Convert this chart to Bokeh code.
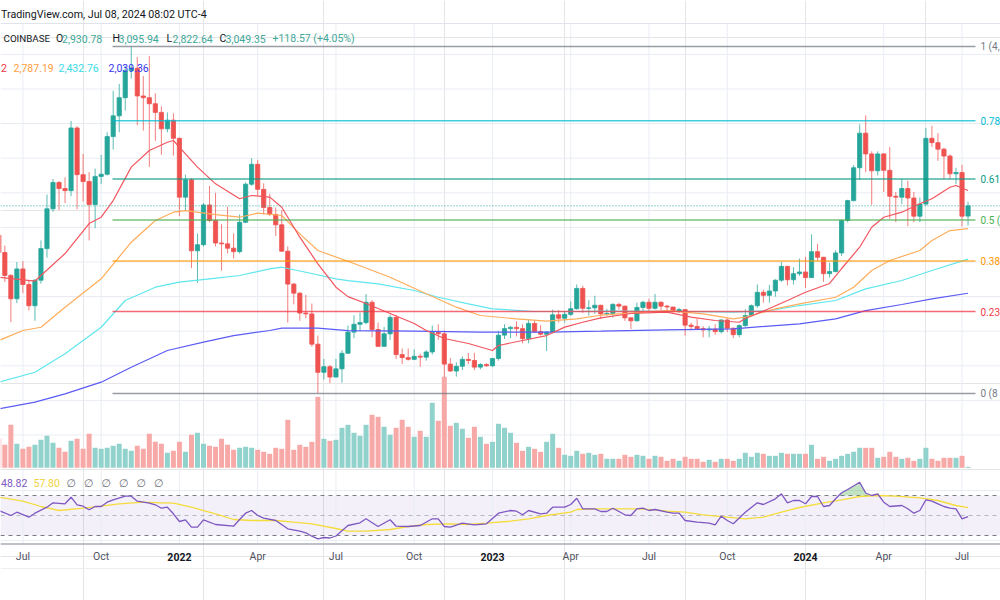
import numpy as np
import pandas as pd
from bokeh.plotting import figure
from bokeh.models import Range1d
from bokeh.embed import file_html
from bokeh.resources import INLINE
from bokeh.core.properties import value

# ---------------- data (weekly ETH/USD, Coinbase) ----------------
dates = pd.date_range("2021-06-07", periods=162, freq="W-MON")

opens = [
    2710, 2510, 2245, 1975, 2320, 2140, 1895, 2190, 2555, 3015,
    3320, 3250, 3225, 3950, 3410, 3330, 3065, 3390, 3415, 3850,
    4090, 4300, 4610, 4640, 4320, 4300, 4230, 4130, 3940, 4040,
    3830, 3150, 3350, 2530, 2600, 3060, 2880, 2620, 2610, 2560,
    2520, 2860, 3300, 3530, 3240, 3030, 2950, 2830, 2525, 2145,
    2040, 1810, 1800, 1450, 1125, 1190, 1070, 1165, 1345, 1590,
    1680, 1700, 1935, 1620, 1425, 1570, 1760, 1330, 1295, 1275,
    1310, 1300, 1360, 1585, 1570, 1220, 1140, 1195, 1275, 1262,
    1185, 1215, 1200, 1285, 1555, 1630, 1645, 1630, 1515, 1690,
    1595, 1565, 1590, 1790, 1750, 1795, 1860, 2095, 1865, 1870,
    1900, 1800, 1805, 1910, 1890, 1755, 1720, 1875, 1935, 1865,
    1935, 1890, 1880, 1830, 1850, 1670, 1655, 1630, 1615, 1625,
    1595, 1730, 1635, 1560, 1665, 1780, 1895, 2050, 2015, 2065,
    2190, 2350, 2195, 2265, 2285, 2220, 2520, 2455, 2265, 2290,
    2505, 2880, 3110, 3490, 3890, 3650, 3455, 3650, 3460, 3160,
    3150, 3250, 3140, 2930, 3070, 3830, 3780, 3705, 3625, 3420,
    3435, 2930.78]
highs = [
    2890, 2590, 2260, 2400, 2410, 2190, 2200, 2650, 3180, 3360,
    3335, 3380, 4030, 3970, 3650, 3440, 3480, 3640, 3900, 4380,
    4460, 4670, 4890, 4770, 4550, 4780, 4350, 4200, 4130, 4120,
    3840, 3410, 3370, 2730, 3080, 3280, 3200, 2840, 3040, 2730,
    2950, 3320, 3600, 3580, 3310, 3190, 3030, 3000, 2580, 2160,
    2050, 2020, 1920, 1550, 1280, 1210, 1280, 1380, 1665, 1785,
    1815, 2030, 1960, 1700, 1650, 1790, 1790, 1400, 1400, 1390,
    1340, 1380, 1665, 1680, 1610, 1290, 1240, 1310, 1350, 1350,
    1230, 1230, 1290, 1600, 1680, 1660, 1715, 1680, 1740, 1720,
    1670, 1600, 1850, 1845, 1830, 1945, 2140, 2125, 1960, 2010,
    1905, 1860, 1925, 1930, 1895, 1760, 1930, 1950, 1975, 2030,
    1945, 1905, 1880, 1870, 1850, 1700, 1745, 1660, 1660, 1680,
    1740, 1750, 1640, 1680, 1855, 1910, 2140, 2080, 2135, 2200,
    2400, 2355, 2340, 2440, 2460, 2720, 2610, 2460, 2390, 2535,
    2890, 3120, 3520, 3990, 4095, 3680, 3680, 3660, 3730, 3210,
    3360, 3340, 3210, 3145, 3950, 3975, 3890, 3720, 3645, 3490,
    3525, 3095.94]
lows = [
    2330, 2170, 1705, 1925, 2040, 1840, 1720, 2150, 2450, 2980,
    3000, 3080, 3160, 3010, 3100, 2650, 2790, 3300, 3400, 3700,
    3900, 4150, 4520, 3980, 3920, 3500, 3800, 3640, 3900, 3630,
    2930, 3000, 2330, 2160, 2580, 2860, 2580, 2300, 2500, 2440,
    2500, 2850, 3280, 3170, 2950, 2930, 2700, 2520, 1700, 1910,
    1720, 1750, 1420, 880, 1040, 1000, 1070, 1005, 1340, 1520,
    1600, 1680, 1530, 1420, 1420, 1500, 1280, 1220, 1260, 1270,
    1190, 1260, 1330, 1500, 1070, 1130, 1075, 1150, 1220, 1150,
    1160, 1190, 1190, 1260, 1510, 1520, 1540, 1460, 1460, 1580,
    1550, 1370, 1575, 1700, 1700, 1775, 1850, 1810, 1780, 1800,
    1740, 1780, 1760, 1850, 1720, 1625, 1715, 1825, 1820, 1850,
    1840, 1830, 1815, 1810, 1550, 1610, 1625, 1530, 1530, 1560,
    1575, 1590, 1520, 1530, 1650, 1780, 1870, 1930, 1930, 2000,
    2170, 2130, 2140, 2240, 2100, 2220, 2415, 2170, 2220, 2280,
    2470, 2860, 3100, 3350, 3440, 3060, 3400, 3210, 2900, 2860,
    3070, 2815, 2860, 2860, 3050, 3730, 3570, 3360, 3360, 3300,
    2810, 2822.64]
closes = [
    2510, 2245, 1975, 2320, 2140, 1895, 2190, 2555, 3015, 3320,
    3250, 3225, 3950, 3410, 3330, 3065, 3390, 3415, 3850, 4090,
    4300, 4610, 4640, 4320, 4300, 4230, 4130, 3940, 4040, 3830,
    3150, 3350, 2530, 2600, 3060, 2880, 2620, 2610, 2560, 2520,
    2860, 3300, 3530, 3240, 3030, 2950, 2830, 2525, 2145, 2040,
    1810, 1800, 1450, 1125, 1190, 1070, 1165, 1345, 1590, 1680,
    1700, 1935, 1620, 1425, 1570, 1760, 1330, 1295, 1275, 1310,
    1300, 1360, 1585, 1570, 1220, 1140, 1195, 1275, 1262, 1185,
    1215, 1200, 1285, 1555, 1630, 1645, 1630, 1515, 1690, 1595,
    1565, 1590, 1790, 1750, 1795, 1860, 2095, 1865, 1870, 1900,
    1800, 1805, 1910, 1890, 1755, 1720, 1875, 1935, 1865, 1935,
    1890, 1880, 1830, 1850, 1670, 1655, 1630, 1615, 1625, 1595,
    1730, 1635, 1560, 1665, 1780, 1895, 2050, 2015, 2065, 2190,
    2350, 2195, 2265, 2285, 2220, 2520, 2455, 2265, 2290, 2505,
    2880, 3110, 3490, 3890, 3650, 3455, 3650, 3460, 3160, 3150,
    3250, 3140, 2930, 3070, 3830, 3780, 3705, 3625, 3420, 3435,
    2930, 3049.35]
volume_k = [   # thousand ETH
    1450, 1150, 2150, 1200, 950, 1050, 1150, 1400, 1600, 1250,
    1000, 800, 1350, 1450, 950, 1700, 1000, 950, 1000, 1100,
    1200, 950, 850, 1100, 950, 1700, 1300, 1200, 750, 850,
    1300, 800, 1650, 1750, 1200, 1100, 1050, 1450, 1150, 900,
    1000, 1050, 1000, 900, 800, 700, 1000, 950, 2400, 900,
    1150, 1050, 1300, 3550, 1450, 1350, 1400, 2000, 2150, 1750,
    1600, 2150, 2650, 2550, 2050, 1650, 2000, 2400, 2050, 1550,
    1850, 1550, 3250, 2350, 4550, 2100, 2250, 1950, 1500, 2050,
    1550, 1200, 1300, 2200, 2000, 1750, 1250, 850, 1050, 950,
    800, 1300, 1700, 1000, 650, 600, 850, 700, 750, 650,
    700, 450, 450, 450, 650, 550, 650, 600, 450, 600,
    550, 350, 450, 350, 550, 450, 450, 300, 400, 300,
    450, 450, 350, 450, 750, 550, 750, 700, 600, 600,
    750, 700, 700, 700, 700, 1150, 450, 550, 350, 450,
    600, 700, 800, 1000, 1000, 1000, 500, 550, 800, 550,
    450, 500, 350, 450, 1000, 450, 350, 500, 500, 500,
    600, 50]

# moving averages (index into dates, value)
ma20_idx = [0, 6, 7, 11, 15, 17, 19, 22, 25, 28, 29, 31, 33, 36, 40, 42, 45, 47, 50, 53,
            56, 58, 61, 65, 69, 71, 74, 78, 82, 83, 87, 91, 94, 97, 100, 105, 111, 115, 119, 123,
            124, 128, 131, 134, 138, 140, 143, 145, 147, 150, 153, 155, 158, 159, 161]
ma20_val = [2225, 2180, 2244, 2498, 2845, 2918, 3111, 3497, 3689, 3785, 3805, 3651, 3497, 3304, 3131, 3169, 3150, 3034, 2687, 2379,
            2109, 2000, 1920, 1805, 1689, 1608, 1516, 1458, 1377, 1435, 1493, 1550, 1647, 1704, 1755, 1805, 1820, 1762, 1724, 1704,
            1747, 1862, 1955, 2051, 2152, 2325, 2571, 2802, 2918, 2976, 3073, 3131, 3265, 3285, 3227]
ma50_idx = [0, 4, 7, 11, 17, 22, 26, 29, 31, 36, 40, 43, 47, 50, 53, 59, 65, 71, 76, 80,
            86, 91, 96, 100, 111, 117, 122, 124, 129, 133, 139, 142, 145, 148, 153, 155, 158, 161]
ma50_val = [1493, 1608, 1646, 1878, 2206, 2629, 2880, 2976, 2995, 2949, 2918, 2965, 2938, 2726, 2533, 2383, 2224, 2033, 1878, 1782,
            1743, 1716, 1743, 1785, 1839, 1801, 1743, 1762, 1859, 1917, 1993, 2109, 2302, 2418, 2533, 2649, 2764, 2787.19]
ma100_idx = [0, 6, 11, 17, 21, 26, 30, 35, 40, 45, 47, 51, 56, 58, 63, 69, 73, 78, 82, 89,
             96, 100, 111, 122, 128, 133, 139, 144, 150, 155, 161]
ma100_val = [1011, 1126, 1339, 1646, 1955, 2109, 2167, 2206, 2244, 2321, 2340, 2282, 2206, 2186, 2148, 2071, 1993, 1917, 1859, 1828,
             1828, 1833, 1831, 1820, 1839, 1897, 1955, 2090, 2186, 2302, 2432.76]
ma200_idx = [0, 6, 11, 17, 22, 28, 34, 39, 45, 47, 53, 58, 69, 80, 91, 100, 111, 122, 133, 139, 144, 150, 155, 161]
ma200_val = [703, 780, 876, 1011, 1184, 1377, 1473, 1550, 1608, 1635, 1635, 1608, 1600, 1589, 1589, 1600, 1616, 1628, 1686, 1743,
             1839, 1909, 1975, 2039.36]

rsi_idx = [0, 2, 3, 5, 6, 8, 9, 11, 12, 13, 14, 15, 16, 17, 18, 19, 21, 22, 23, 25,
           26, 27, 28, 29, 30, 31, 32, 33, 34, 36, 39, 40, 41, 42, 43, 44, 46, 48, 50, 51,
           52, 53, 54, 55, 56, 58, 60, 61, 63, 65, 66, 68, 70, 72, 73, 74, 75, 77, 79, 81,
           83, 85, 86, 87, 88, 90, 91, 92, 94, 95, 96, 97, 99, 100, 101, 102, 104, 105, 106, 107,
           108, 109, 111, 112, 113, 114, 116, 118, 119, 120, 121, 122, 124, 126, 127, 129, 130, 131, 132, 133,
           134, 135, 136, 137, 138, 139, 140, 141, 143, 144, 145, 146, 147, 148, 149, 150, 151, 152, 153, 154,
           155, 156, 157, 158, 159, 160, 161]
rsi_val = [55, 50, 53.3, 48.3, 52.3, 58.3, 62.7, 61.7, 68.3, 60.7, 59.3, 55.7, 59, 59, 63.3, 65.7, 69.3, 69.3, 64.3, 62.3,
           60.7, 57.3, 58.3, 51.7, 44, 45.7, 38.3, 38.3, 45.7, 41, 39.3, 46, 52.3, 55, 50, 47.3, 45, 36.7, 34.3, 32.7,
           29.3, 26.7, 28, 27.5, 29.5, 40, 42.7, 46.7, 39, 45.7, 39.3, 39, 40, 46.7, 46.7, 39, 38.3, 42.3, 40.7, 41.7,
           52.3, 55, 54.3, 50.7, 55, 51.7, 52.3, 58.3, 58.3, 61, 67.3, 56.7, 56.7, 54, 54, 57.3, 50.7, 50, 56.7, 57.3,
           55, 56, 53.3, 52.3, 52.3, 45, 43.3, 42.3, 40.7, 49.3, 45, 41.7, 53.3, 62.7, 61, 66.7, 71.7, 62.7, 65, 65,
           61.7, 69, 69, 59, 60, 66.7, 72.7, 76, 83.3, 72.5, 70, 71.5, 63.3, 59, 59.5, 60, 56.7, 52.3, 55, 65.7,
           64.3, 61.7, 59, 57.3, 56.7, 46.7, 48.82]
rsi_ma_idx = [0, 4, 7, 10, 14, 17, 20, 24, 27, 29, 32, 36, 39, 42, 46, 49, 52, 56, 58, 61,
              65, 68, 71, 75, 78, 81, 85, 88, 91, 95, 96, 99, 102, 106, 109, 111, 114, 117, 121, 124,
              127, 130, 133, 137, 140, 143, 146, 149, 153, 156, 159, 161]
rsi_ma_val = [68.3, 64.3, 59, 55, 57.3, 59.3, 61.7, 63.3, 62.7, 62.3, 58.3, 51.7, 46, 45, 45, 43.3, 41.7, 37, 34.3, 34.3,
              36, 39, 41, 41.7, 41, 42.3, 44.3, 46.7, 50, 53.3, 56, 56.7, 56.7, 56.7, 55.7, 54.3, 53.3, 50.7, 48.3, 46.7,
              48.3, 53.3, 58, 62.7, 65.7, 69, 70, 69.3, 67.7, 65, 60, 57.8]

fib_high = 4891.70
fib_low = 880.00
fib_levels = [1, 0.786, 0.618, 0.5, 0.382, 0.236, 0]
# level labels as far as they are visible at the right edge of the snapshot
fib_labels = ["1 (4,", "0.78", "0.61", "0.5 (", "0.38", "0.23", "0 (8"]

tick_dates = ["2021-07-05", "2021-10-04", "2022-01-03", "2022-04-04", "2022-07-04", "2022-10-03",
              "2023-01-02", "2023-04-03", "2023-07-03", "2023-10-02", "2024-01-01", "2024-04-01", "2024-07-01"]
tick_labels = ["Jul", "Oct", "2022", "Apr", "Jul", "Oct", "2023", "Apr", "Jul", "Oct", "2024", "Apr", "Jul"]

header_text = "TradingView.com, Jul 08, 2024 08:02 UTC-4"
symbol_text = "COINBASE"
ohlc_letters = ["O", "H", "L", "C"]
ohlc_values = ["2,930.78", "3,095.94", "2,822.64", "3,049.35"]
change_text = "+118.57 (+4.05%)"
ma_legend = ["2", "2,787.19", "2,432.76", "2,039.36"]
rsi_legend = ["48.82", "57.80"]

for arr in (opens, highs, lows, closes, volume_k):
    assert len(arr) == len(dates)

# ---------------- geometry ----------------
W, H = 1000, 600
X_REF = 805.0          # screen x of the 2024-01-01 bar
PX_WEEK = 6.02
Y_LOW = 393.0          # screen y of fib 0 level
PX_USD = 347.0 / (fib_high - fib_low)
VOL_BASE = 467.3
VOL_PX = 50.0          # thousand ETH per pixel
RSI_ZERO = 565.0

base = pd.Timestamp("2024-01-01")
def wk(d):
    return (pd.Timestamp(d) - base).days / 7.0

w = np.array([wk(d) for d in dates])

def price_at(y):
    return fib_low + (Y_LOW - y) / PX_USD

p = figure(width=W, height=H,
           x_range=Range1d(-X_REF / PX_WEEK, (W - X_REF) / PX_WEEK),
           y_range=Range1d(price_at(H), price_at(0)),
           output_backend="svg", toolbar_location=None,
           x_axis_location=None, y_axis_location=None,
           min_border=0, min_border_left=0, min_border_right=0,
           min_border_top=0, min_border_bottom=0)
p.outline_line_color = None
p.background_fill_color = "white"
p.border_fill_color = "white"
p.extra_x_ranges = {"px": Range1d(0, W)}
p.extra_y_ranges = {
    "px": Range1d(H, 0),
    "vol": Range1d((VOL_BASE - H) * VOL_PX, VOL_BASE * VOL_PX),
    "rsi": Range1d(RSI_ZERO - H, RSI_ZERO),
}

GRID = "#e9edf4"
FONT = value("Roboto")

# RSI band background
p.varea(x=[0, W], y1=[30, 30], y2=[70, 70], x_range_name="px", y_range_name="rsi",
        fill_color="#7e57c2", fill_alpha=0.09)

# grid
tx = [wk(d) for d in tick_dates]
p.segment(x0=tx, x1=tx, y0=[23] * len(tx), y1=[543] * len(tx), y_range_name="px",
          line_color=GRID, line_width=1)
gp = list(range(400, 5000, 400))
p.segment(x0=[0] * len(gp), x1=[W] * len(gp), y0=gp, y1=gp, x_range_name="px",
          line_color=GRID, line_width=1)
p.segment(x0=[0] * 2, x1=[W] * 2, y0=[75, 25], y1=[75, 25], x_range_name="px",
          y_range_name="rsi", line_color=GRID, line_width=1)
p.segment(x0=[0], x1=[W], y0=[23], y1=[23], x_range_name="px", y_range_name="px",
          line_color="#e0e3eb", line_width=1)

# volume
up = np.array(closes) >= np.array(opens)
vol_col = ["#92d2cc" if u else "#f7a9a7" for u in up]
p.vbar(x=w, width=0.83, top=volume_k, bottom=0, y_range_name="vol",
       fill_color=vol_col, line_color=None)

# RSI levels
p.segment(x0=[0] * 2, x1=[W] * 2, y0=[70, 30], y1=[70, 30], x_range_name="px",
          y_range_name="rsi", line_color="#787b86", line_dash="4 4", line_width=1)
p.segment(x0=[0], x1=[W], y0=[50], y1=[50], x_range_name="px",
          y_range_name="rsi", line_color="#787b86", line_alpha=0.5, line_dash="4 4", line_width=1)

# overbought fill
rx = w[rsi_idx]
fx, fy = [], []
for k in range(len(rx)):
    if k > 0:
        a, b = rsi_val[k - 1] - 70, rsi_val[k] - 70
        if a * b < 0:
            t = a / (a - b)
            fx.append(rx[k - 1] + t * (rx[k] - rx[k - 1]))
            fy.append(70)
    fx.append(rx[k])
    fy.append(max(rsi_val[k], 70))
p.varea(x=fx, y1=[70] * len(fx), y2=fy, y_range_name="rsi", fill_color="#4caf50", fill_alpha=0.35)

p.line(x=w[rsi_ma_idx], y=rsi_ma_val, y_range_name="rsi", line_color="#f5dc3c", line_width=1.3)
p.line(x=rx, y=rsi_val, y_range_name="rsi", line_color="#7e57c2", line_width=1.3)

# candles
cc = ["#26a69a" if u else "#ef5350" for u in up]
p.segment(x0=w, x1=w, y0=lows, y1=highs, line_color=cc, line_width=1, line_alpha=0.75)
p.vbar(x=w, width=0.7, top=np.maximum(opens, closes), bottom=np.minimum(opens, closes),
       fill_color=cc, line_color=cc, line_width=0.8)

# moving averages
p.line(x=w[ma200_idx], y=ma200_val, line_color="#5b5bf5", line_width=1.2)
p.line(x=w[ma100_idx], y=ma100_val, line_color="#5fe6ee", line_width=1.2)
p.line(x=w[ma50_idx], y=ma50_val, line_color="#ffad5c", line_width=1.2)
p.line(x=w[ma20_idx], y=ma20_val, line_color="#f2555f", line_width=1.2)

# fib retracement
fib_cols = ["#787b86", "#00bcd4", "#089981", "#4caf50", "#ff9800", "#f23645", "#787b86"]
fib_prices = [fib_low + lv * (fib_high - fib_low) for lv in fib_levels]
p.segment(x0=[112] * 7, x1=[975] * 7, y0=fib_prices, y1=fib_prices, x_range_name="px",
          line_color=fib_cols, line_width=1.5, line_alpha=0.75)
p.text(x=[980] * 7, y=fib_prices, text=fib_labels, x_range_name="px", text_color=fib_cols,
       text_font=FONT, text_font_size="10px", text_baseline="middle", text_align="left")

# last price line
p.segment(x0=[0], x1=[W], y0=[closes[-1]], y1=[closes[-1]], x_range_name="px",
          line_color="#26a69a", line_dash="1 2", line_width=1)

# time axis
p.segment(x0=[0], x1=[W], y0=[543.5], y1=[543.5], x_range_name="px", y_range_name="px",
          line_color="#a9acb5", line_width=1.5)
p.segment(x0=[0], x1=[W], y0=[568], y1=[568], x_range_name="px", y_range_name="px",
          line_color="#eceef2", line_width=1)
yr = [lab.isdigit() for lab in tick_labels]
p.text(x=[t for t, y in zip(tx, yr) if not y], y=[556] * (len(tx) - sum(yr)),
       text=[l for l, y in zip(tick_labels, yr) if not y], y_range_name="px",
       text_font=FONT, text_font_size="10.5px", text_color="#50535e",
       text_baseline="middle", text_align="center")
p.text(x=[t for t, y in zip(tx, yr) if y], y=[556] * sum(yr),
       text=[l for l, y in zip(tick_labels, yr) if y], y_range_name="px",
       text_font=FONT, text_font_size="10.5px", text_font_style="bold", text_color="#131722",
       text_baseline="middle", text_align="center")

# header / legends
def label(x, y, s, color, size="10.5px", align="left", font=FONT):
    p.text(x=[x], y=[y], text=[s], x_range_name="px", y_range_name="px", text_font=font,
           text_font_size=size, text_color=color, text_baseline="middle", text_align=align)

label(0.5, 14, header_text, "#131722", size="10.7px")
label(3, 38, symbol_text, "#131722", size="9.8px")
for lx, vx, let, val in zip([55.5, 112, 166, 219], [61.5, 118, 172, 225], ohlc_letters, ohlc_values):
    label(lx, 38, let, "#131722")
    label(vx, 38, val, "#3fa898")
label(272, 38, change_text, "#3fa898")
for x0, s, c in zip([0.5, 13, 58, 108], ma_legend, ["#f23645", "#ff9d3d", "#38dbe8", "#3434f0"]):
    label(x0, 67, s, c)
label(0.5, 482.5, rsi_legend[0], "#7e57c2", size="10.5px")
label(33, 482.5, rsi_legend[1], "#f0d23a", size="10.5px")
for cx in [70.5, 88, 105.5, 123, 140.5, 158]:
    label(cx, 482.5, "\u2205", "#6a6d78", size="11px", align="center", font=value("DejaVu Sans"))

open("out.html", "w").write(file_html(p, INLINE, title="ETH weekly"))
